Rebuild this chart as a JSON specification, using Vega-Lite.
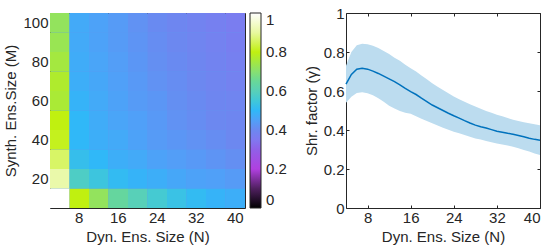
{
 "$schema": "https://vega.github.io/schema/vega-lite/v6.json",
 "background": "white",
 "padding": {"left": 3, "top": 5, "right": 5, "bottom": 2},
 "config": {
  "font": "Liberation Sans",
  "view": {"stroke": "#262626", "strokeWidth": 1},
  "axis": {"domain": false, "grid": false, "tickColor": "#262626", "tickSize": -3, "labelColor": "#262626", "labelFontSize": 15, "titleFontSize": 15, "titleFontWeight": "normal", "titleColor": "#262626", "labelPadding": 5, "titlePadding": 4, "zindex": 1, "labelAngle": 0}
 },
 "spacing": 15,
 "resolve": {"legend": {"color": "independent"}, "scale": {"color": "independent"}},
 "hconcat": [
  {
   "width": 195, "height": 195,
   "view": {"fill": "#5c98f0", "stroke": "#262626"},
   "data": {"values": [
    {"M":10,"N":4,"v":1.0},{"M":10,"N":8,"v":0.80},{"M":10,"N":12,"v":0.72},{"M":10,"N":16,"v":0.64},{"M":10,"N":20,"v":0.60},{"M":10,"N":24,"v":0.56},{"M":10,"N":28,"v":0.53},{"M":10,"N":32,"v":0.51},{"M":10,"N":36,"v":0.49},{"M":10,"N":40,"v":0.48},
    {"M":20,"N":4,"v":0.91},{"M":20,"N":8,"v":0.58},{"M":20,"N":12,"v":0.54},{"M":20,"N":16,"v":0.51},{"M":20,"N":20,"v":0.49},{"M":20,"N":24,"v":0.48},{"M":20,"N":28,"v":0.465},{"M":20,"N":32,"v":0.455},{"M":20,"N":36,"v":0.45},{"M":20,"N":40,"v":0.44},
    {"M":30,"N":4,"v":0.86},{"M":30,"N":8,"v":0.52},{"M":30,"N":12,"v":0.50},{"M":30,"N":16,"v":0.48},{"M":30,"N":20,"v":0.47},{"M":30,"N":24,"v":0.455},{"M":30,"N":28,"v":0.445},{"M":30,"N":32,"v":0.435},{"M":30,"N":36,"v":0.425},{"M":30,"N":40,"v":0.415},
    {"M":40,"N":4,"v":0.81},{"M":40,"N":8,"v":0.50},{"M":40,"N":12,"v":0.48},{"M":40,"N":16,"v":0.47},{"M":40,"N":20,"v":0.455},{"M":40,"N":24,"v":0.44},{"M":40,"N":28,"v":0.43},{"M":40,"N":32,"v":0.42},{"M":40,"N":36,"v":0.41},{"M":40,"N":40,"v":0.40},
    {"M":50,"N":4,"v":0.80},{"M":50,"N":8,"v":0.50},{"M":50,"N":12,"v":0.475},{"M":50,"N":16,"v":0.46},{"M":50,"N":20,"v":0.45},{"M":50,"N":24,"v":0.435},{"M":50,"N":28,"v":0.42},{"M":50,"N":32,"v":0.41},{"M":50,"N":36,"v":0.40},{"M":50,"N":40,"v":0.395},
    {"M":60,"N":4,"v":0.76},{"M":60,"N":8,"v":0.49},{"M":60,"N":12,"v":0.47},{"M":60,"N":16,"v":0.455},{"M":60,"N":20,"v":0.44},{"M":60,"N":24,"v":0.43},{"M":60,"N":28,"v":0.415},{"M":60,"N":32,"v":0.405},{"M":60,"N":36,"v":0.395},{"M":60,"N":40,"v":0.39},
    {"M":70,"N":4,"v":0.77},{"M":70,"N":8,"v":0.48},{"M":70,"N":12,"v":0.465},{"M":70,"N":16,"v":0.45},{"M":70,"N":20,"v":0.435},{"M":70,"N":24,"v":0.42},{"M":70,"N":28,"v":0.41},{"M":70,"N":32,"v":0.40},{"M":70,"N":36,"v":0.39},{"M":70,"N":40,"v":0.38},
    {"M":80,"N":4,"v":0.75},{"M":80,"N":8,"v":0.475},{"M":80,"N":12,"v":0.46},{"M":80,"N":16,"v":0.445},{"M":80,"N":20,"v":0.43},{"M":80,"N":24,"v":0.415},{"M":80,"N":28,"v":0.405},{"M":80,"N":32,"v":0.395},{"M":80,"N":36,"v":0.385},{"M":80,"N":40,"v":0.375},
    {"M":90,"N":4,"v":0.73},{"M":90,"N":8,"v":0.47},{"M":90,"N":12,"v":0.455},{"M":90,"N":16,"v":0.44},{"M":90,"N":20,"v":0.425},{"M":90,"N":24,"v":0.41},{"M":90,"N":28,"v":0.40},{"M":90,"N":32,"v":0.39},{"M":90,"N":36,"v":0.38},{"M":90,"N":40,"v":0.37},
    {"M":100,"N":4,"v":0.72},{"M":100,"N":8,"v":0.47},{"M":100,"N":12,"v":0.455},{"M":100,"N":16,"v":0.44},{"M":100,"N":20,"v":0.42},{"M":100,"N":24,"v":0.405},{"M":100,"N":28,"v":0.395},{"M":100,"N":32,"v":0.385},{"M":100,"N":36,"v":0.375},{"M":100,"N":40,"v":0.365}
   ]},
   "layer": [
    {
     "mark": {"type": "rect"},
     "encoding": {
      "x": {"field": "N", "type": "ordinal", "scale": {"paddingInner": 0, "paddingOuter": 0}, "axis": {"orient": "bottom", "values": [8,16,24,32,40], "title": "Dyn. Ens. Size (N)"}},
      "y": {"field": "M", "type": "ordinal", "sort": "descending", "scale": {"paddingInner": 0, "paddingOuter": 0}, "axis": {"orient": "left", "values": [20,40,60,80,100], "title": "Synth. Ens.Size (M)"}},
      "color": {"field": "v", "type": "quantitative",
       "scale": {"interpolate": "rgb", "domain": [0,0.1,0.2,0.3,0.35,0.4,0.45,0.5,0.55,0.6,0.65,0.7,0.8,0.9,1],
                 "range": ["#000000","#502060","#b040e0","#9060e8","#8078f0","#6c88f0","#50a0f8","#30b8f8","#40c8d8","#58d0b8","#68d898","#88e070","#c0f010","#e8f8a0","#ffffff"]},
       "legend": {"values": [0,0.2,0.4,0.6,0.8,1], "format": "~g", "title": null, "gradientLength": 195, "gradientThickness": 11, "offset": 4, "labelFontSize": 15, "labelColor": "#262626", "gradientStrokeColor": "#262626", "gradientStrokeWidth": 1, "labelOffset": 5, "padding": 0}}
     }
    },
    {
     "mark": {"type": "rect", "opacity": 0},
     "encoding": {
      "x": {"field": "N", "type": "ordinal", "axis": {"orient": "top", "values": [8,16,24,32,40], "labels": false, "title": null}},
      "y": {"field": "M", "type": "ordinal", "sort": "descending", "axis": {"orient": "right", "values": [20,40,60,80,100], "labels": false, "title": null}}
     }
    }
   ],
   "resolve": {"axis": {"x": "independent", "y": "independent"}}
  },
  {
   "width": 194, "height": 195,
   "data": {"values": [
    {"N":4,"mean":0.635,"lo":0.54,"hi":0.73},{"N":5,"mean":0.685,"lo":0.57,"hi":0.80},{"N":6,"mean":0.712,"lo":0.59,"hi":0.835},{"N":7,"mean":0.716,"lo":0.593,"hi":0.842},{"N":8,"mean":0.712,"lo":0.588,"hi":0.84},
    {"N":9,"mean":0.702,"lo":0.578,"hi":0.832},{"N":10,"mean":0.69,"lo":0.563,"hi":0.82},{"N":11,"mean":0.676,"lo":0.545,"hi":0.805},{"N":12,"mean":0.662,"lo":0.525,"hi":0.79},{"N":13,"mean":0.648,"lo":0.51,"hi":0.77},
    {"N":14,"mean":0.632,"lo":0.498,"hi":0.755},{"N":15,"mean":0.613,"lo":0.488,"hi":0.735},{"N":16,"mean":0.597,"lo":0.483,"hi":0.717},{"N":17,"mean":0.582,"lo":0.47,"hi":0.70},{"N":18,"mean":0.563,"lo":0.458,"hi":0.68},
    {"N":19,"mean":0.546,"lo":0.446,"hi":0.66},{"N":20,"mean":0.528,"lo":0.434,"hi":0.64},{"N":21,"mean":0.514,"lo":0.423,"hi":0.622},{"N":22,"mean":0.50,"lo":0.412,"hi":0.605},{"N":23,"mean":0.486,"lo":0.401,"hi":0.588},
    {"N":24,"mean":0.473,"lo":0.391,"hi":0.572},{"N":25,"mean":0.461,"lo":0.383,"hi":0.558},{"N":26,"mean":0.448,"lo":0.374,"hi":0.545},{"N":27,"mean":0.436,"lo":0.365,"hi":0.532},{"N":28,"mean":0.425,"lo":0.357,"hi":0.52},
    {"N":29,"mean":0.417,"lo":0.351,"hi":0.509},{"N":30,"mean":0.41,"lo":0.344,"hi":0.498},{"N":31,"mean":0.402,"lo":0.337,"hi":0.488},{"N":32,"mean":0.394,"lo":0.331,"hi":0.478},{"N":33,"mean":0.389,"lo":0.326,"hi":0.47},
    {"N":34,"mean":0.383,"lo":0.32,"hi":0.462},{"N":35,"mean":0.378,"lo":0.314,"hi":0.452},{"N":36,"mean":0.372,"lo":0.307,"hi":0.446},{"N":37,"mean":0.365,"lo":0.298,"hi":0.44},{"N":38,"mean":0.358,"lo":0.29,"hi":0.434},
    {"N":39,"mean":0.352,"lo":0.28,"hi":0.43},{"N":40,"mean":0.348,"lo":0.272,"hi":0.425}
   ]},
   "layer": [
    {
     "mark": {"type": "area", "color": "#bcdcef", "opacity": 1},
     "encoding": {
      "x": {"field": "N", "type": "quantitative", "scale": {"domain": [4,40], "nice": false, "zero": false}, "axis": {"orient": "top", "values": [8,16,24,32,40], "labels": false, "title": null}},
      "y": {"field": "lo", "type": "quantitative", "scale": {"domain": [0,1], "nice": false}, "axis": {"orient": "right", "values": [0,0.2,0.4,0.6,0.8,1], "labels": false, "title": null}},
      "y2": {"field": "hi"}
     }
    },
    {
     "mark": {"type": "line", "color": "#0072bd", "strokeWidth": 1.5},
     "encoding": {
      "x": {"field": "N", "type": "quantitative", "axis": {"orient": "bottom", "values": [8,16,24,32,40], "format": "d", "title": "Dyn. Ens. Size (N)"}},
      "y": {"field": "mean", "type": "quantitative", "axis": {"orient": "left", "values": [0,0.2,0.4,0.6,0.8,1], "format": "~g", "title": "Shr. factor (γ)"}}
     }
    }
   ],
   "resolve": {"axis": {"x": "independent", "y": "independent"}}
  }
 ]
}
